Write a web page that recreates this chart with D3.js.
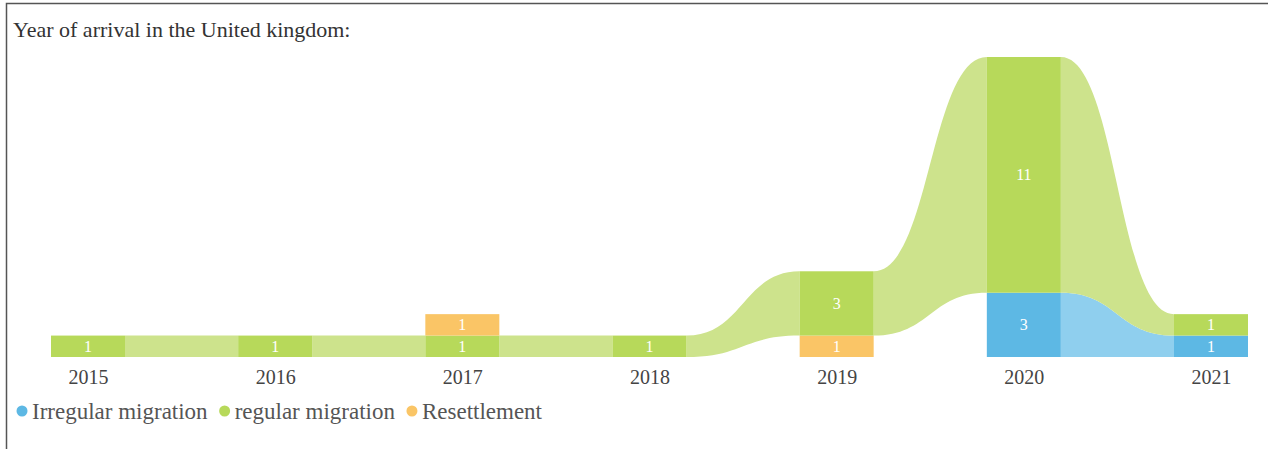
<!DOCTYPE html>
<html>
<head>
<meta charset="utf-8">
<script src="https://cdn.jsdelivr.net/npm/d3@7"></script>
<style>
  body { margin: 0; background: #fff; }
  svg { display: block; font-family: "Liberation Serif", "Times New Roman", serif; }
</style>
</head>
<body>
<div id="chart"></div>
<script>
var w = 1268;
var h = 449;

// Data
var years = ["2015", "2016", "2017", "2018", "2019", "2020", "2021"];
var categories = ["Irregular migration", "regular migration", "Resettlement"];
var irregular = [0, 0, 0, 0, 0, 3, 1];
var regular = [1, 1, 1, 1, 3, 11, 1];
var resettlement = [0, 0, 1, 0, 1, 0, 0];

var barColors = ["#5db8e4", "#b7d95a", "#fac566"];
var flowColors = ["#8fcfee", "#cde38c", "#fcdca3"];

var series = [irregular, regular, resettlement];

var barWidth = 74;

var x = d3.scalePoint()
  .domain(years)
  .range([88, 1211]);

// stack each year: smallest at the bottom, ties keep category order
var stacks = years.map(function (yr, i) {
  var items = [];
  series.forEach(function (s, c) {
    if (s[i] > 0) items.push({ year: yr, cat: c, value: s[i] });
  });
  items.sort(function (a, b) { return a.value - b.value || a.cat - b.cat; });
  var acc = 0;
  items.forEach(function (d) {
    d.y0 = acc;
    acc += d.value;
    d.y1 = acc;
  });
  return items;
});

var maxTotal = d3.max(stacks, function (s) { return s.length ? s[s.length - 1].y1 : 0; });

var y = d3.scaleLinear()
  .domain([0, maxTotal])
  .range([357, 57]);

var svg = d3.select("#chart")
  .append("svg")
  .attr("width", w)
  .attr("height", h);

// frame
svg.append("rect")
  .attr("x", 6.5)
  .attr("y", 3.5)
  .attr("width", w + 20)
  .attr("height", h + 20)
  .attr("fill", "none")
  .attr("stroke", "#555")
  .attr("stroke-width", 1.5);

svg.append("text")
  .attr("x", 13)
  .attr("y", 37)
  .attr("font-size", 22)
  .attr("fill", "#333")
  .text("Year of arrival in the United kingdom:");

// flows between consecutive years
var flows = [];
for (var i = 0; i < years.length - 1; i++) {
  stacks[i].forEach(function (a) {
    var b = stacks[i + 1].find(function (d) { return d.cat === a.cat; });
    if (b) flows.push({ a: a, b: b });
  });
}

function flowPath(f) {
  var x0 = x(f.a.year) + barWidth / 2;
  var x1 = x(f.b.year) - barWidth / 2;
  var xm = (x0 + x1) / 2;
  var t0 = y(f.a.y1), t1 = y(f.b.y1);
  var b0 = y(f.a.y0), b1 = y(f.b.y0);
  var p = d3.path();
  p.moveTo(x0, t0);
  p.bezierCurveTo(xm, t0, xm, t1, x1, t1);
  p.lineTo(x1, b1);
  p.bezierCurveTo(xm, b1, xm, b0, x0, b0);
  p.closePath();
  return p.toString();
}

svg.append("g")
  .selectAll("path")
  .data(flows)
  .enter()
  .append("path")
  .attr("d", flowPath)
  .attr("fill", function (d) { return flowColors[d.a.cat]; });

// bars
var bars = svg.append("g")
  .selectAll("g")
  .data(d3.merge(stacks))
  .enter()
  .append("g");

bars.append("rect")
  .attr("x", function (d) { return x(d.year) - barWidth / 2; })
  .attr("y", function (d) { return y(d.y1); })
  .attr("width", barWidth)
  .attr("height", function (d) { return y(d.y0) - y(d.y1); })
  .attr("fill", function (d) { return barColors[d.cat]; });

bars.append("text")
  .attr("x", function (d) { return x(d.year); })
  .attr("y", function (d) { return (y(d.y0) + y(d.y1)) / 2; })
  .attr("dy", "0.35em")
  .attr("text-anchor", "middle")
  .attr("font-size", 16)
  .attr("fill", "#fff")
  .text(function (d) { return d.value; });

// year axis
var axis = svg.append("g")
  .attr("transform", "translate(0," + y(0) + ")")
  .call(d3.axisBottom(x).tickSize(0).tickPadding(13));

axis.select(".domain").remove();
axis.selectAll("text")
  .attr("font-family", "Liberation Serif, serif")
  .attr("font-size", 20)
  .attr("fill", "#444");

// legend
var legend = svg.append("g")
  .attr("transform", "translate(0,411)");

var lx = 22;
categories.forEach(function (c, k) {
  legend.append("circle")
    .attr("cx", lx)
    .attr("cy", 0)
    .attr("r", 5.5)
    .attr("fill", barColors[k]);
  var t = legend.append("text")
    .attr("x", lx + 10)
    .attr("y", 0)
    .attr("dy", "0.35em")
    .attr("font-size", 23)
    .attr("fill", "#555")
    .text(c);
  lx += 10 + t.node().getComputedTextLength() + 17;
});
</script>
</body>
</html>
